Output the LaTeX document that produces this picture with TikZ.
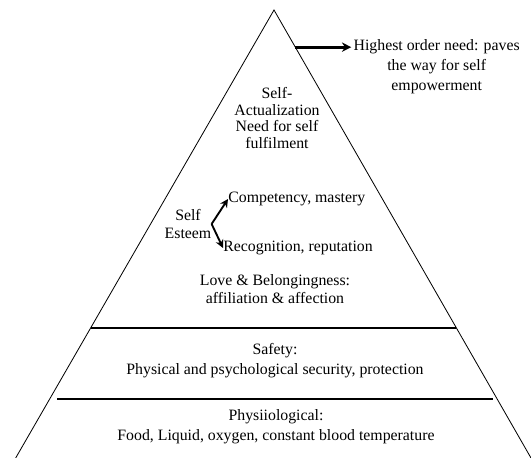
\documentclass[tikz,border=0pt]{standalone}
\usepackage{fontspec}
\setmainfont{Liberation Serif}
\usetikzlibrary{calc,arrows.meta}

\begin{document}
\begin{tikzpicture}[
            > = {Stealth[length=7pt,width=7pt]}, % arrow head style
            semithick, % line style
            level/.style = {align=center, inner sep=0pt, font=\fontsize{13.5pt}{17pt}\selectfont}
        ]
\useasboundingbox (0,0) rectangle (15.93,13.74);

\coordinate (top) at (8.22,13.44);
\coordinate (bl) at (0.47,0);
\coordinate (br) at (15.93,0);
\coordinate (hs) at ($(top)!0.083!(br)$);

\draw[line width=0.7pt] (bl) -- (top) -- (br);
\draw[line width=1.8pt] ($(top)!0.71!(bl)$) -- ($(top)!0.71!(br)$);
\draw[line width=0.9pt] (1.71,1.77) -- (14.79,1.77);

\node[level] (high) at (13.1,11.73) {Highest order need: paves\\the way for self\\empowerment};
\node[level, font=\fontsize{13.5pt}{14pt}\selectfont] (selfact) at (8.31,10.2) {Self-\\Actualization\\Need for self\\fulfilment};
\node[level, font=\fontsize{13.5pt}{15.3pt}\selectfont] (esteem) at (5.64,7.02) {Self\\Esteem};
\node[level, anchor=west] (comp) at (6.84,7.77) {Competency, mastery};
\node[level, anchor=west] (recog) at (6.69,6.30) {Recognition, reputation};
\node[level, font=\fontsize{13.5pt}{15.3pt}\selectfont] (love) at (8.25,5.07) {Love \& Belongingness:\\affiliation \& affection};
\node[level] (safety) at (8.25,2.91) {Safety:\\Physical and psychological security, protection};
\node[level] (physio) at (8.28,0.93) {Physiiological:\\Food, Liquid, oxygen, constant blood temperature};

 \path [->, > = {Stealth[length=8pt,width=8pt]}, line width=2.4pt] (hs) edge ($(hs -| high.west)+(-0.06,0)$);
 \path [->, line width=1.6pt] (esteem.east) edge (comp.west);
 \path [->, line width=1.6pt] (esteem.east) edge (recog.west);

\end{tikzpicture}
\end{document}
